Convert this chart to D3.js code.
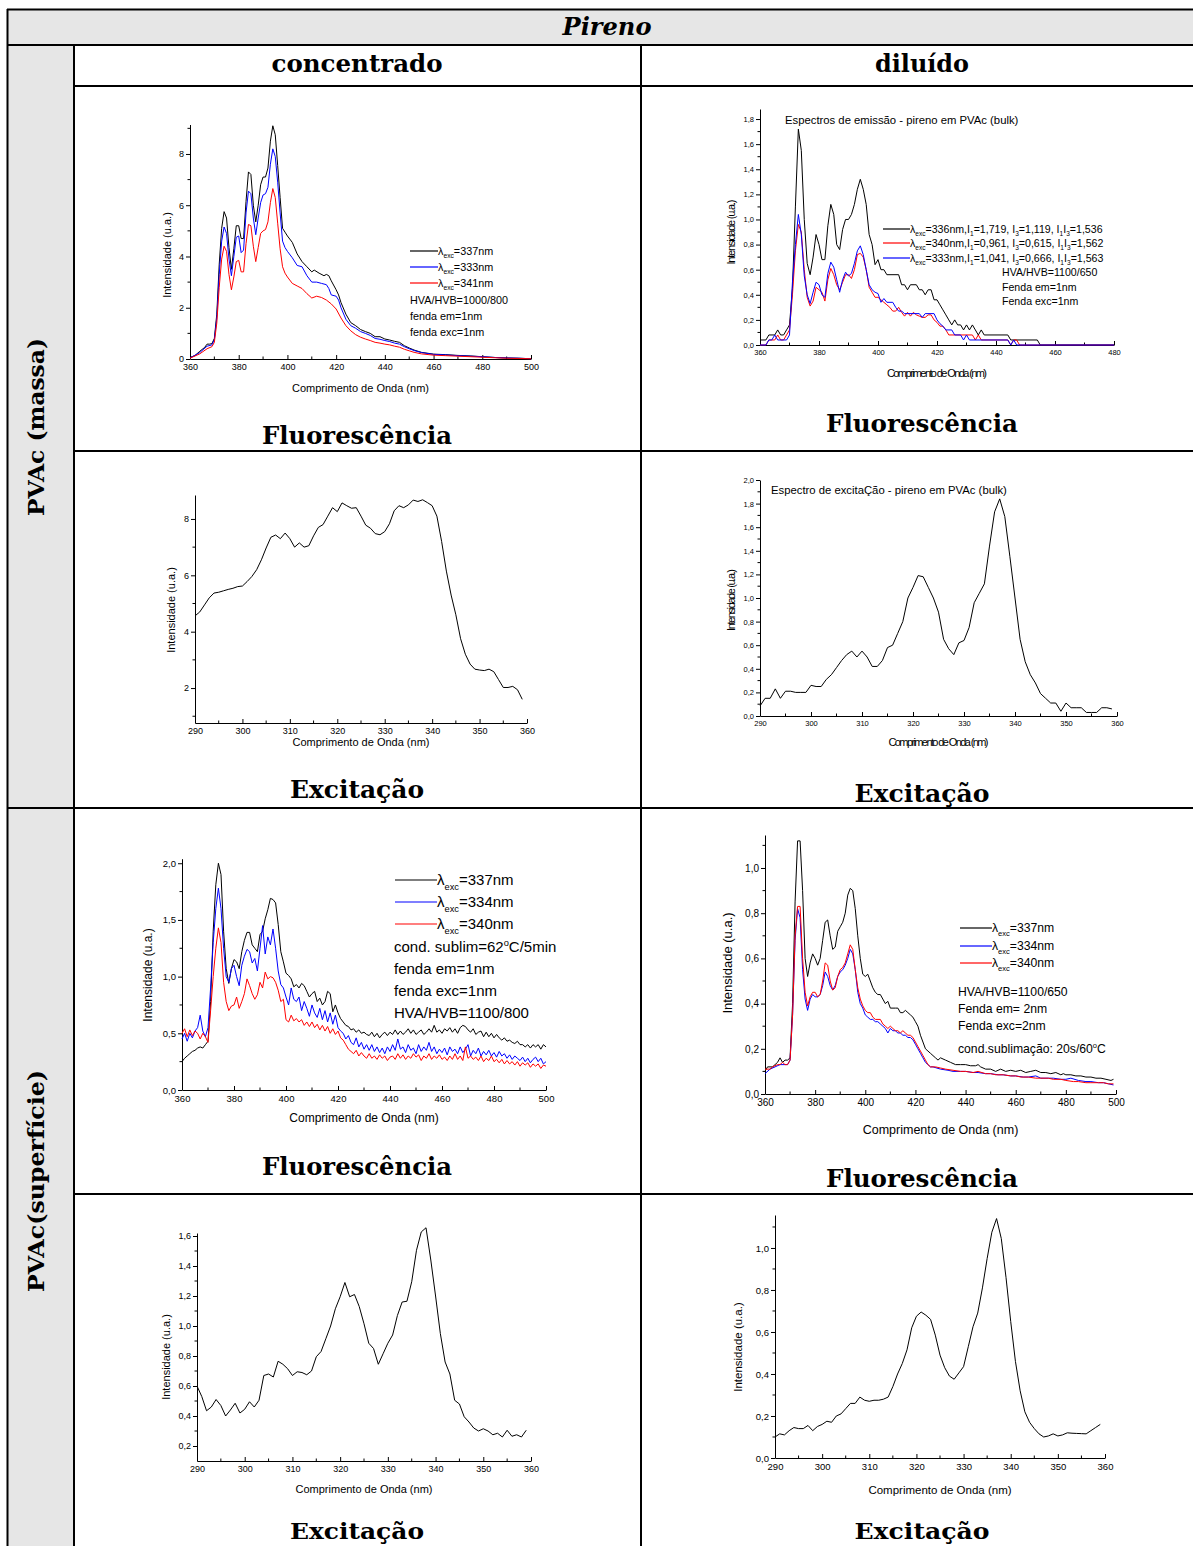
<!DOCTYPE html>
<html lang="pt">
<head>
<meta charset="UTF-8">
<title>Pireno</title>
<script src="https://d3js.org/d3.v7.min.js"></script>
<style>
  body { margin: 0; background: #fff; }
  svg text { font-family: "Liberation Sans", Arial, sans-serif; fill: #000; }
  svg text.hd { font-family: "DejaVu Serif", serif; font-weight: bold; }
</style>
</head>
<body>
<svg id="page" width="1193" height="1546"></svg>
<script>
// ---- dados ----
const wlEmi = d3.range(360, 501);   // 360..500 nm, passo 1
const wlExc = d3.range(290, 360);   // 290..359 nm, passo 1

// PVAc massa, concentrado, fluorescência
const massaConcFluor337 = [[360,.06],[362,.13],[364,.30],[366,.45],[367,.58],[368,.58],[369,.60],[370,.80],[371,1.75],[372,3.7],[373,5.1],[374,5.75],[375,5.5],[376,4.35],[377,3.5],[378,4.3],[379,5.2],[380,5.2],[381,4.7],[382,4.7],[383,6.15],[384,7.3],[385,7.2],[386,6.0],[387,5.35],[388,6.0],[389,6.8],[390,7.1],[391,7.1],[392,7.45],[393,8.5],[394,9.1],[395,8.75],[396,7.55],[397,6.3],[398,5.1],[399,4.95],[400,4.8],[402,4.55],[404,4.1],[406,3.8],[408,3.6],[410,3.4],[411,3.47],[413,3.35],[415,3.25],[416,3.3],[417,3.25],[418,3.05],[420,2.7],[421,2.5],[422,2.2],[424,1.75],[426,1.42],[428,1.3],[430,1.15],[432,1.07],[434,1.0],[436,.87],[438,.87],[440,.78],[442,.74],[444,.69],[446,.65],[448,.52],[450,.43],[452,.35],[455,.26],[460,.19],[465,.17],[470,.14],[475,.12],[480,.09],[485,.06],[490,.04],[495,.03],[500,.01]];
const massaConcFluor333 = [[360,.04],[364,.25],[367,.50],[369,.55],[370,.75],[371,1.6],[372,3.3],[373,4.6],[374,5.15],[375,4.9],[376,3.9],[377,3.25],[378,4.0],[379,4.75],[380,4.8],[381,4.15],[382,4.25],[383,5.7],[384,6.55],[385,6.45],[386,5.5],[387,4.85],[388,5.5],[389,6.1],[390,6.4],[391,6.45],[392,6.7],[393,7.6],[394,8.2],[395,7.9],[396,6.9],[397,5.7],[398,4.6],[399,4.35],[400,4.2],[402,3.95],[404,3.65],[406,3.6],[408,3.25],[410,3.0],[412,3.0],[414,2.95],[416,2.9],[417,2.75],[418,2.5],[420,2.45],[421,2.3],[422,2.0],[424,1.55],[426,1.3],[428,1.2],[430,1.07],[432,1.0],[434,.92],[436,.80],[438,.77],[440,.72],[442,.68],[444,.62],[446,.58],[448,.48],[450,.40],[452,.33],[455,.25],[460,.18],[465,.16],[470,.13],[475,.11],[480,.09],[485,.06],[490,.04],[495,.03],[500,.01]];
const massaConcFluor341 = [[360,.03],[364,.20],[367,.40],[369,.48],[370,.65],[371,1.4],[372,2.8],[373,3.9],[374,4.4],[375,4.2],[376,3.3],[377,2.7],[378,3.2],[379,3.8],[380,3.85],[381,3.4],[382,3.4],[383,4.5],[384,5.25],[385,5.2],[386,4.4],[387,3.8],[388,4.35],[389,4.9],[390,5.0],[391,5.05],[392,5.35],[393,6.1],[394,6.65],[395,6.3],[396,5.3],[397,4.3],[398,3.6],[399,3.35],[400,3.2],[402,2.95],[404,2.85],[406,2.75],[408,2.55],[410,2.38],[412,2.45],[414,2.4],[416,2.3],[418,2.15],[420,1.95],[422,1.6],[424,1.3],[426,1.1],[428,.95],[430,.85],[432,.78],[434,.72],[436,.65],[438,.62],[440,.58],[442,.55],[444,.50],[446,.46],[448,.38],[450,.32],[452,.26],[455,.20],[460,.15],[465,.13],[470,.11],[475,.09],[480,.07],[485,.05],[490,.03],[495,.02],[500,.01]];

// PVAc massa, diluído, fluorescência
const massaDilFluor336 = [[360,.04],[362,.04],[363,.08],[365,.08],[366,.12],[367,.08],[368,.08],[369,.12],[370,.16],[371,.45],[372,1.10],[373,1.72],[374,1.55],[375,1.00],[376,.65],[377,.56],[378,.70],[379,.88],[380,.80],[381,.68],[382,.68],[383,.95],[384,1.12],[385,1.04],[386,.80],[387,.76],[388,.92],[389,1.00],[390,1.00],[391,1.04],[392,1.12],[393,1.24],[394,1.32],[395,1.24],[396,1.12],[397,.88],[398,.80],[399,.64],[400,.68],[401,.60],[402,.60],[403,.56],[407,.56],[408,.48],[409,.48],[410,.44],[411,.48],[413,.48],[414,.44],[415,.44],[416,.40],[417,.44],[418,.44],[419,.36],[420,.36],[421,.32],[422,.28],[423,.24],[424,.20],[425,.16],[426,.20],[427,.16],[428,.16],[429,.12],[430,.16],[431,.12],[432,.16],[433,.12],[434,.08],[435,.12],[436,.08],[444,.08],[445,.04],[454,.04],[455,0],[480,0]];
const massaDilFluor340 = [[360,0],[362,0],[363,.04],[365,.04],[366,.08],[367,.04],[368,.04],[369,.08],[370,.12],[371,.40],[372,.75],[373,.96],[374,.90],[375,.60],[376,.38],[377,.31],[378,.35],[379,.46],[380,.44],[381,.42],[382,.35],[383,.52],[384,.61],[385,.56],[386,.48],[387,.44],[388,.50],[389,.56],[390,.56],[391,.53],[392,.60],[393,.72],[394,.73],[395,.70],[396,.60],[397,.46],[398,.42],[399,.38],[400,.38],[401,.36],[402,.34],[403,.32],[404,.30],[405,.27],[406,.27],[407,.30],[408,.26],[409,.23],[410,.26],[411,.23],[412,.26],[413,.24],[414,.23],[415,.22],[416,.22],[417,.24],[418,.24],[419,.20],[420,.18],[421,.15],[422,.15],[423,.12],[424,.08],[432,.08],[433,.04],[434,.08],[435,.04],[444,.04],[445,0],[446,.04],[447,.04],[448,0],[480,0]];
const massaDilFluor333 = [[360,0],[362,0],[363,.04],[364,.04],[365,.08],[366,.04],[369,.04],[370,.08],[371,.50],[372,.80],[373,1.04],[374,.88],[375,.55],[376,.40],[377,.33],[378,.42],[379,.50],[380,.48],[381,.40],[382,.38],[383,.57],[384,.66],[385,.62],[386,.52],[387,.42],[388,.52],[389,.58],[390,.55],[391,.57],[392,.65],[393,.75],[394,.79],[395,.72],[396,.60],[397,.48],[398,.44],[399,.42],[400,.41],[401,.34],[402,.37],[403,.34],[405,.34],[406,.30],[407,.27],[408,.27],[409,.25],[414,.25],[415,.22],[416,.25],[419,.25],[420,.20],[421,.17],[422,.15],[423,.12],[425,.12],[426,.08],[428,.08],[429,.04],[430,.08],[431,.04],[444,.04],[445,0],[446,.04],[447,0],[480,0]];

// PVAc massa, excitação
const massaConcExc = [4.56,4.70,4.95,5.20,5.37,5.40,5.45,5.50,5.54,5.60,
  5.62,5.78,5.96,6.20,6.55,6.97,7.35,7.43,7.30,7.50,
  7.30,7.00,7.15,7.00,7.05,7.40,7.70,7.80,8.10,8.40,
  8.26,8.57,8.47,8.38,8.40,8.10,7.78,7.67,7.48,7.44,
  7.55,7.83,8.29,8.47,8.40,8.50,8.67,8.62,8.68,8.58,
  8.47,8.10,7.20,6.15,5.30,4.60,3.75,3.20,2.85,2.67,
  2.64,2.62,2.67,2.58,2.30,2.02,2.02,2.06,1.94,1.60];
const massaDilExc = [.085,.15,.15,.23,.15,.21,.21,.20,.20,.20,
  .26,.25,.25,.31,.35,.41,.47,.52,.55,.50,
  .55,.50,.42,.42,.47,.58,.60,.70,.80,1.00,
  1.09,1.19,1.18,1.09,1.00,.88,.65,.57,.52,.62,
  .64,.75,.96,1.04,1.12,1.44,1.73,1.84,1.69,1.35,
  1.00,.65,.46,.35,.28,.19,.15,.11,.11,.04,
  .11,.07,.07,.07,.03,.03,.03,.07,.07,.06];

// PVAc superfície, concentrado, fluorescência (360..500)
const supConcFluor337 = [.25,.28,.30,.32,.34,.35,.37,.38,.37,.40,
  .43,.78,1.40,1.81,2.00,1.90,1.40,1.07,.94,1.07,
  1.15,1.13,1.07,1.22,1.32,1.39,1.39,1.28,1.25,1.22,
  1.37,1.40,1.51,1.59,1.69,1.68,1.65,1.46,1.22,1.13,
  1.03,1.01,.98,.91,.93,.90,.94,.92,.87,.82,
  .85,.87,.78,.81,.75,.78,.87,.85,.69,.75,
  .68,.63,.60,.57,.56,.53,.54,.51,.53,.50,
  .51,.49,.48,.51,.47,.50,.46,.49,.51,.48,
  .51,.49,.53,.49,.52,.49,.51,.54,.50,.53,
  .49,.51,.53,.49,.51,.54,.51,.57,.51,.53,
  .50,.54,.52,.55,.51,.54,.50,.55,.57,.56,
  .53,.51,.54,.49,.51,.52,.47,.51,.47,.50,
  .46,.49,.46,.44,.46,.43,.44,.42,.41,.43,
  .40,.40,.38,.40,.37,.40,.38,.40,.36,.40,
  .38];
const supConcFluor334 = [.45,.50,.43,.50,.46,.52,.55,.66,.52,.47,
  .55,.90,1.30,1.60,1.78,1.60,1.25,1.00,.95,1.07,
  1.10,1.00,.92,1.10,1.18,1.24,1.22,1.12,1.16,1.05,
  1.25,1.45,1.20,1.35,1.28,1.42,1.25,1.05,.93,.90,
  .82,.75,.90,.80,.78,.82,.70,.78,.72,.65,
  .75,.68,.64,.72,.62,.70,.60,.68,.58,.66,
  .55,.52,.50,.45,.48,.42,.40,.46,.38,.42,
  .36,.40,.35,.40,.34,.38,.33,.37,.32,.38,
  .34,.40,.35,.45,.36,.38,.33,.40,.35,.37,
  .32,.40,.34,.38,.35,.42,.34,.38,.32,.36,
  .33,.37,.31,.38,.34,.36,.32,.38,.33,.36,
  .40,.30,.35,.32,.37,.30,.34,.31,.35,.30,
  .33,.29,.34,.30,.32,.28,.31,.27,.30,.28,
  .26,.29,.25,.28,.24,.27,.29,.25,.28,.23,
  .25];
const supConcFluor340 = [.50,.54,.47,.53,.48,.52,.50,.45,.50,.47,
  .42,.70,1.00,1.25,1.43,1.30,.95,.78,.70,.74,
  .75,.82,.72,.78,.85,.98,.92,.85,.80,.84,
  .95,.90,1.04,.98,1.00,.99,.95,.88,.78,.80,
  .62,.60,.66,.61,.63,.60,.62,.57,.60,.56,
  .60,.55,.58,.53,.57,.52,.56,.50,.54,.49,
  .52,.46,.44,.40,.36,.34,.32,.35,.30,.33,
  .30,.28,.32,.28,.30,.27,.31,.28,.30,.26,
  .29,.30,.27,.32,.28,.31,.27,.30,.28,.32,
  .29,.31,.26,.30,.28,.32,.27,.30,.28,.31,
  .27,.29,.26,.30,.27,.32,.27,.30,.26,.38,
  .28,.30,.27,.29,.26,.30,.25,.28,.26,.30,
  .25,.27,.24,.27,.23,.26,.23,.25,.22,.25,
  .21,.24,.22,.24,.20,.23,.21,.23,.19,.22,
  .21];

// PVAc superfície, diluído, fluorescência
const supDilFluor337 = [[360,.10],[361,.12],[362,.12],[363,.12],[364,.13],[365,.14],[366,.16],[367,.14],[368,.15],[369,.15],[370,.16],[371,.40],[372,.85],[373,1.12],[374,1.12],[375,.90],[376,.60],[377,.52],[378,.58],[379,.62],[380,.60],[381,.57],[382,.60],[383,.68],[384,.76],[385,.77],[386,.70],[387,.64],[388,.65],[389,.72],[390,.74],[391,.76],[392,.80],[393,.88],[394,.91],[395,.90],[396,.82],[397,.70],[398,.60],[399,.53],[400,.52],[401,.53],[402,.50],[403,.47],[404,.45],[405,.44],[406,.44],[407,.42],[408,.40],[409,.41],[410,.38],[412,.38],[413,.38],[414,.36],[415,.36],[416,.37],[417,.36],[418,.35],[419,.34],[420,.32],[421,.30],[422,.26],[423,.23],[424,.20],[425,.19],[426,.18],[427,.17],[428,.16],[429,.15],[430,.16],[432,.15],[434,.14],[436,.13],[438,.13],[440,.13],[442,.125],[444,.125],[445,.13],[446,.12],[448,.11],[450,.11],[452,.10],[454,.11],[456,.10],[458,.105],[460,.10],[462,.105],[464,.095],[466,.10],[468,.105],[470,.095],[472,.095],[474,.09],[476,.095],[478,.085],[479,.09],[480,.085],[482,.085],[484,.08],[486,.08],[488,.075],[490,.075],[492,.07],[494,.07],[496,.065],[498,.06],[499,.065]];
const supDilFluor334 = [[360,.09],[362,.11],[364,.12],[366,.13],[369,.13],[370,.15],[371,.35],[372,.68],[373,.82],[374,.78],[375,.55],[376,.42],[377,.37],[378,.42],[379,.44],[380,.43],[381,.43],[382,.44],[383,.48],[384,.54],[385,.52],[386,.48],[387,.46],[388,.48],[389,.52],[390,.54],[391,.55],[392,.57],[393,.60],[394,.64],[395,.62],[396,.55],[397,.45],[398,.40],[399,.38],[400,.35],[401,.34],[402,.33],[403,.33],[404,.32],[405,.32],[406,.31],[407,.30],[408,.29],[409,.27],[410,.29],[411,.28],[412,.28],[413,.27],[414,.27],[415,.26],[416,.26],[417,.25],[418,.25],[419,.24],[420,.22],[421,.20],[422,.18],[423,.16],[424,.14],[425,.13],[426,.12],[427,.12],[430,.11],[433,.105],[435,.10],[438,.10],[440,.10],[443,.095],[445,.095],[448,.09],[450,.09],[453,.085],[455,.085],[458,.08],[460,.08],[463,.075],[465,.075],[468,.08],[470,.07],[473,.07],[475,.07],[478,.065],[480,.065],[482,.07],[485,.06],[488,.055],[490,.055],[493,.05],[495,.05],[497,.045],[499,.04]];
const supDilFluor340 = [[360,.11],[362,.11],[363,.12],[365,.13],[366,.13],[367,.14],[368,.13],[369,.13],[370,.15],[371,.35],[372,.70],[373,.83],[374,.83],[375,.60],[376,.45],[377,.39],[378,.43],[379,.45],[380,.45],[381,.43],[382,.44],[383,.50],[384,.58],[385,.57],[386,.50],[387,.46],[388,.47],[389,.52],[390,.55],[391,.56],[392,.58],[393,.62],[394,.66],[395,.64],[396,.55],[397,.47],[398,.42],[399,.39],[400,.37],[401,.36],[402,.36],[403,.34],[404,.33],[406,.33],[407,.31],[408,.30],[409,.29],[410,.30],[411,.29],[412,.28],[413,.28],[414,.27],[415,.28],[416,.27],[417,.26],[418,.26],[419,.25],[420,.23],[421,.21],[422,.19],[423,.17],[424,.15],[425,.13],[426,.12],[428,.12],[430,.115],[432,.11],[435,.105],[438,.10],[440,.10],[443,.095],[445,.10],[448,.09],[450,.09],[452,.085],[455,.085],[458,.08],[460,.08],[462,.075],[465,.075],[468,.07],[470,.07],[473,.07],[475,.065],[478,.065],[480,.06],[483,.055],[485,.055],[488,.05],[490,.05],[493,.05],[495,.05],[497,.045],[499,.045]];

// PVAc superfície, excitação
const supConcExc = [.60,.53,.435,.46,.51,.47,.40,.44,.485,.42,
  .445,.495,.46,.505,.67,.68,.66,.765,.745,.715,
  .67,.695,.69,.675,.70,.795,.83,.915,1.00,1.115,
  1.195,1.29,1.195,1.21,1.13,1.015,.885,.85,.745,.815,
  .885,.94,1.07,1.16,1.165,1.295,1.505,1.627,1.655,1.44,
  1.20,.95,.76,.68,.505,.48,.395,.36,.32,.30,
  .315,.30,.275,.285,.26,.305,.265,.275,.26,.305];
const supDilExc = [.10,.115,.11,.13,.145,.14,.14,.155,.13,.15,
  .16,.175,.17,.20,.21,.235,.26,.26,.29,.275,
  .27,.275,.275,.28,.29,.34,.40,.45,.515,.62,
  .675,.695,.68,.66,.585,.49,.43,.39,.375,.405,
  .435,.53,.625,.69,.81,.95,1.075,1.14,1.045,.86,
  .65,.46,.32,.22,.17,.14,.115,.10,.105,.115,
  .105,.11,.12,.118,.117,.116,.115,.13,.145,.16];

// ---- página ----
const svg = d3.select("#page");
const W = 1193, H = 1546;
const zip = (xs, ys) => ys.map((v, i) => [xs[i], v]);
const comma = d => d3.format(".1f")(d).replace(".", ",");

// fundo cinza da tabela
svg.append("rect").attr("x", 7).attr("y", 9).attr("width", W - 7).attr("height", 36).attr("fill", "#e6e6e6");
svg.append("rect").attr("x", 7).attr("y", 45).attr("width", 67).attr("height", H - 45).attr("fill", "#e6e6e6");

const rules = [
  [7, 9.5, W, 9.5], [7.5, 9, 7.5, H], [7, 45, W, 45], [74, 45, 74, H], [641, 45, 641, H],
  [74, 86, W, 86], [74, 451, W, 451], [7, 808, W, 808], [74, 1194, W, 1194]
];
svg.append("g").selectAll("line").data(rules).join("line")
  .attr("x1", d => d[0]).attr("y1", d => d[1]).attr("x2", d => d[2]).attr("y2", d => d[3])
  .attr("stroke", "#000").attr("stroke-width", 2);

function heading(x, y, txt, size, len, opts = {}) {
  const t = svg.append("text").attr("class", "hd")
    .attr("x", x).attr("y", y).attr("text-anchor", "middle")
    .style("font-size", size + "px")
    .attr("textLength", len).attr("lengthAdjust", "spacingAndGlyphs")
    .text(txt);
  if (opts.italic) t.style("font-style", "italic");
  if (opts.rotate) t.attr("transform", `rotate(-90,${x},${y})`);
  return t;
}

heading(607, 35, "Pireno", 24, 89, {italic: true});
heading(357, 72, "concentrado", 24, 171);
heading(922, 72, "diluído", 24, 94);
heading(44, 427, "PVAc (massa)", 23, 178, {rotate: true});
heading(44, 1181, "PVAc(superfície)", 23, 222, {rotate: true});
heading(357, 444, "Fluorescência", 24, 190);
heading(922, 432, "Fluorescência", 24, 192);
heading(357, 798, "Excitação", 24, 134);
heading(922, 802, "Excitação", 24, 135);
heading(357, 1175, "Fluorescência", 24, 190);
heading(922, 1187, "Fluorescência", 24, 192);
heading(357, 1539, "Excitação", 23, 134);
heading(922, 1539, "Excitação", 23, 135);

// texto com índices: segs = [[texto, 0|1|-1], ...]  1 = subscrito, -1 = sobrescrito
function richText(g, x, y, fs, segs) {
  const t = g.append("text").attr("x", x).attr("y", y).style("font-size", fs + "px");
  let shift = 0;
  segs.forEach(([s, k]) => {
    const target = k === 1 ? fs * 0.3 : k === -1 ? -fs * 0.4 : 0;
    t.append("tspan").attr("dy", target - shift)
      .style("font-size", (k ? fs * 0.62 : fs) + "px").text(s);
    shift = target;
  });
  return t;
}
const lam = nm => [["λ", 0], ["exc", 1], ["=" + nm, 0]];

function drawPanel(p) {
  const x = d3.scaleLinear().domain(p.xDom).range(p.xPix);
  const y = d3.scaleLinear().domain(p.yDom).range(p.yPix);
  const g = svg.append("g");
  const fmt = p.comma ? comma : (d => d);

  const xa = g.append("g").attr("transform", `translate(0,${p.yPix[0]})`)
    .call(d3.axisBottom(x).tickValues(p.xTicks).tickSize(-4).tickSizeOuter(0).tickPadding(5));
  xa.selectAll(".tick text").style("font-size", p.fs + "px");
  xa.selectAll("line.minor").data(p.xMinor).join("line").attr("class", "minor")
    .attr("x1", d => x(d)).attr("x2", d => x(d)).attr("y1", 0).attr("y2", -2.5).attr("stroke", "#000");

  const ya = g.append("g").attr("transform", `translate(${p.xPix[0]},0)`)
    .call(d3.axisLeft(y).tickValues(p.yTicks).tickSize(4).tickSizeOuter(0).tickPadding(2).tickFormat(fmt));
  ya.selectAll(".tick text").style("font-size", p.fs + "px");
  ya.selectAll("line.minor").data(p.yMinor).join("line").attr("class", "minor")
    .attr("y1", d => y(d)).attr("y2", d => y(d)).attr("x1", 0).attr("x2", -2.5).attr("stroke", "#000");

  const line = d3.line().x(d => x(d[0])).y(d => y(d[1]));
  g.selectAll("path.serie").data(p.series).join("path").attr("class", "serie")
    .attr("d", s => line(s.data)).attr("fill", "none")
    .attr("stroke", s => s.color).attr("stroke-width", 1);

  const xl = g.append("text").attr("x", (p.xPix[0] + p.xPix[1]) / 2).attr("y", p.xLab.y)
    .attr("text-anchor", "middle").style("font-size", p.xLab.fs + "px").text("Comprimento de Onda (nm)");
  const yl = g.append("text").attr("x", p.yLab.x).attr("y", p.yLab.cy)
    .attr("transform", `rotate(-90,${p.yLab.x},${p.yLab.cy})`)
    .attr("text-anchor", "middle").style("font-size", p.yLab.fs + "px").text("Intensidade (u.a.)");
  if (p.squeeze) {
    xl.attr("textLength", p.xLab.len).attr("lengthAdjust", "spacing");
    yl.attr("textLength", p.yLab.len).attr("lengthAdjust", "spacing");
  }

  if (p.title) g.append("text").attr("x", p.title.x).attr("y", p.title.y)
    .style("font-size", p.title.fs + "px").text(p.title.text);

  if (p.legend) {
    const L = p.legend;
    L.items.forEach((it, i) => {
      const ly = L.y[i];
      g.append("line").attr("x1", L.x0).attr("x2", L.x1).attr("y1", ly).attr("y2", ly)
        .attr("stroke", it.color).attr("stroke-width", 1.2);
      richText(g, L.x1, ly + L.fs * 0.35, L.fs, it.segs);
    });
    (L.notes || []).forEach(n => richText(g, n.x, n.y, L.fs, n.segs));
  }
}

const blk = "#000", blu = "#0000ff", red = "#ff0000";
const ticksExcX = d3.range(290, 361, 10), minorExcX = d3.range(295, 360, 10);
const ticksEmiX = d3.range(360, 501, 20), minorEmiX = d3.range(370, 500, 20);

// 1. massa / concentrado / fluorescência
drawPanel({
  xDom: [360, 500], xPix: [190, 531], yDom: [0, 9.15], yPix: [359, 124.5],
  xTicks: ticksEmiX, xMinor: minorEmiX, yTicks: [0, 2, 4, 6, 8], yMinor: [1, 3, 5, 7, 9], fs: 9,
  xLab: {y: 392, fs: 11}, yLab: {x: 171, cy: 255, fs: 11},
  series: [
    {color: blk, data: massaConcFluor337},
    {color: blu, data: massaConcFluor333},
    {color: red, data: massaConcFluor341}
  ],
  legend: {x0: 410, x1: 438, y: [251, 267, 283], fs: 10.8,
    items: [{color: blk, segs: lam("337nm")}, {color: blu, segs: lam("333nm")}, {color: red, segs: lam("341nm")}],
    notes: [
      {x: 410, y: 304, segs: [["HVA/HVB=1000/800", 0]]},
      {x: 410, y: 320, segs: [["fenda em=1nm", 0]]},
      {x: 410, y: 336, segs: [["fenda exc=1nm", 0]]}
    ]}
});

// 2. massa / diluído / fluorescência
const lamI = (nm, i1, i3, r) => [["λ", 0], ["exc", 1], ["=" + nm + ",I", 0], ["1", 1], ["=" + i1 + ", I", 0], ["3", 1],
  ["=" + i3 + ", I", 0], ["1", 1], ["I", 0], ["3", 1], ["=" + r, 0]];
drawPanel({
  xDom: [360, 480], xPix: [760, 1114], yDom: [0, 1.88], yPix: [345, 109],
  xTicks: d3.range(360, 481, 20), xMinor: d3.range(370, 480, 20),
  yTicks: d3.range(0, 1.81, 0.2), yMinor: d3.range(0.1, 1.9, 0.2), fs: 7.5, comma: true, squeeze: true,
  xLab: {y: 377, fs: 11, len: 100}, yLab: {x: 735, cy: 232, fs: 11, len: 65},
  title: {x: 785, y: 124, fs: 11.3, text: "Espectros de emissão - pireno em PVAc (bulk)"},
  series: [
    {color: blk, data: massaDilFluor336},
    {color: red, data: massaDilFluor340},
    {color: blu, data: massaDilFluor333}
  ],
  legend: {x0: 883, x1: 910, y: [229, 243, 258], fs: 10.6,
    items: [
      {color: blk, segs: lamI("336nm", "1,719", "1,119", "1,536")},
      {color: red, segs: lamI("340nm", "0,961", "0,615", "1,562")},
      {color: blu, segs: lamI("333nm", "1,041", "0,666", "1,563")}
    ],
    notes: [
      {x: 1002, y: 276, segs: [["HVA/HVB=1100/650", 0]]},
      {x: 1002, y: 291, segs: [["Fenda em=1nm", 0]]},
      {x: 1002, y: 305, segs: [["Fenda exc=1nm", 0]]}
    ]}
});

// 3. massa / concentrado / excitação
drawPanel({
  xDom: [290, 360], xPix: [195, 527], yDom: [0.76, 8.85], yPix: [723, 495],
  xTicks: ticksExcX, xMinor: minorExcX, yTicks: [2, 4, 6, 8], yMinor: [1, 3, 5, 7], fs: 9,
  xLab: {y: 746, fs: 11}, yLab: {x: 175, cy: 610, fs: 11},
  series: [{color: blk, data: zip(wlExc, massaConcExc)}]
});

// 4. massa / diluído / excitação
drawPanel({
  xDom: [290, 360], xPix: [760, 1117], yDom: [0, 2.0], yPix: [716, 480],
  xTicks: ticksExcX, xMinor: minorExcX, yTicks: d3.range(0, 2.01, 0.2), yMinor: d3.range(0.1, 2.0, 0.2),
  fs: 7.5, comma: true, squeeze: true,
  xLab: {y: 746, fs: 11, len: 100}, yLab: {x: 735, cy: 600, fs: 11, len: 62},
  title: {x: 771, y: 494, fs: 11.3, text: "Espectro de excitaÇão - pireno em PVAc (bulk)"},
  series: [{color: blk, data: zip(wlExc, massaDilExc)}]
});

// 5. superfície / concentrado / fluorescência
drawPanel({
  xDom: [360, 500], xPix: [182, 546], yDom: [0, 2.04], yPix: [1090, 858.7],
  xTicks: ticksEmiX, xMinor: minorEmiX, yTicks: [0, 0.5, 1, 1.5, 2], yMinor: [0.25, 0.75, 1.25, 1.75],
  fs: 9.5, comma: true,
  xLab: {y: 1122, fs: 12}, yLab: {x: 152, cy: 975, fs: 12},
  series: [
    {color: blk, data: zip(wlEmi, supConcFluor337)},
    {color: blu, data: zip(wlEmi, supConcFluor334)},
    {color: red, data: zip(wlEmi, supConcFluor340)}
  ],
  legend: {x0: 395, x1: 437, y: [880, 902, 924], fs: 15,
    items: [{color: blk, segs: lam("337nm")}, {color: blu, segs: lam("334nm")}, {color: red, segs: lam("340nm")}],
    notes: [
      {x: 394, y: 952, segs: [["cond. sublim=62", 0], ["o", -1], ["C/5min", 0]]},
      {x: 394, y: 974, segs: [["fenda em=1nm", 0]]},
      {x: 394, y: 996, segs: [["fenda exc=1nm", 0]]},
      {x: 394, y: 1018, segs: [["HVA/HVB=1100/800", 0]]}
    ]}
});

// 6. superfície / diluído / fluorescência
drawPanel({
  xDom: [360, 500], xPix: [765, 1116], yDom: [0, 1.146], yPix: [1094, 835],
  xTicks: ticksEmiX, xMinor: minorEmiX, yTicks: d3.range(0, 1.01, 0.2), yMinor: d3.range(0.1, 1.15, 0.2),
  fs: 10, comma: true,
  xLab: {y: 1134, fs: 12.5}, yLab: {x: 732, cy: 963, fs: 13},
  series: [
    {color: blk, data: supDilFluor337},
    {color: blu, data: supDilFluor334},
    {color: red, data: supDilFluor340}
  ],
  legend: {x0: 960, x1: 992, y: [928, 946, 963], fs: 12.2,
    items: [{color: blk, segs: lam("337nm")}, {color: blu, segs: lam("334nm")}, {color: red, segs: lam("340nm")}],
    notes: [
      {x: 958, y: 996, segs: [["HVA/HVB=1100/650", 0]]},
      {x: 958, y: 1013, segs: [["Fenda em= 2nm", 0]]},
      {x: 958, y: 1030, segs: [["Fenda exc=2nm", 0]]},
      {x: 958, y: 1053, segs: [["cond.sublimação: 20s/60", 0], ["o", -1], ["C", 0]]}
    ]}
});

// 7. superfície / concentrado / excitação
drawPanel({
  xDom: [290, 360], xPix: [197, 531], yDom: [0.1, 1.62], yPix: [1461, 1233],
  xTicks: ticksExcX, xMinor: minorExcX, yTicks: d3.range(0.2, 1.61, 0.2), yMinor: d3.range(0.3, 1.6, 0.2),
  fs: 9, comma: true,
  xLab: {y: 1493, fs: 11}, yLab: {x: 170, cy: 1357, fs: 11},
  series: [{color: blk, data: zip(wlExc, supConcExc)}]
});

// 8. superfície / diluído / excitação
drawPanel({
  xDom: [290, 360], xPix: [775, 1105], yDom: [0, 1.157], yPix: [1458, 1215],
  xTicks: ticksExcX, xMinor: minorExcX, yTicks: d3.range(0, 1.01, 0.2), yMinor: d3.range(0.1, 1.15, 0.2),
  fs: 9.5, comma: true,
  xLab: {y: 1494, fs: 11.5}, yLab: {x: 742, cy: 1347, fs: 11.5},
  series: [{color: blk, data: zip(wlExc, supDilExc)}]
});
</script>
</body>
</html>
